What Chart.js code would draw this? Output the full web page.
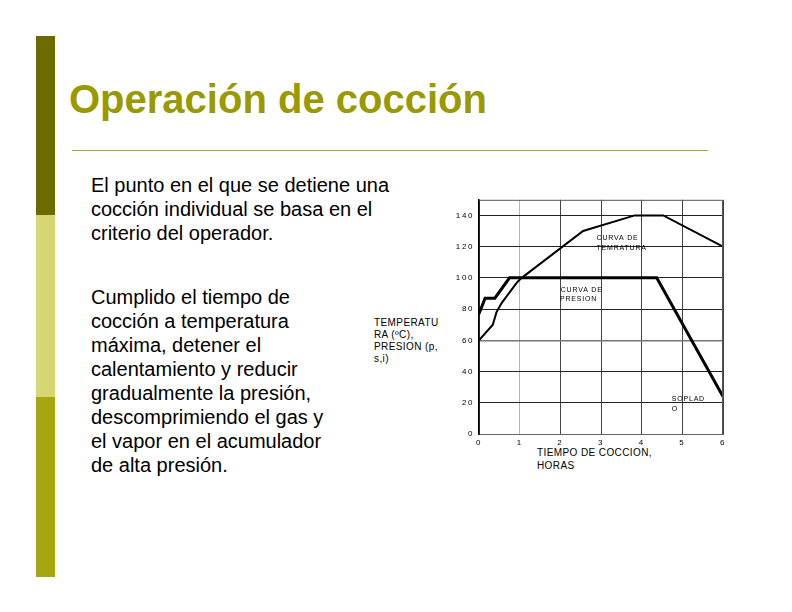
<!DOCTYPE html>
<html>
<head>
<meta charset="utf-8">
<script src="https://cdn.jsdelivr.net/npm/chart.js@4/dist/chart.umd.min.js"></script>
<style>
  body { margin: 0; background: #fff; }
  #slide { position: relative; width: 792px; height: 612px; overflow: hidden; font-family: "Liberation Sans", Arial, sans-serif; }
  .bar { position: absolute; left: 36px; width: 19px; }
  #title { position: absolute; left: 69px; top: 79px; font-size: 40px; line-height: 40px; font-weight: bold; color: #999900; white-space: nowrap; }
  #rule { position: absolute; left: 72px; top: 150px; width: 636px; height: 1px; background: #a8a83a; }
  .txt { position: absolute; left: 91px; font-size: 20px; line-height: 24px; color: #000; white-space: nowrap; }
  .axt { position: absolute; font-size: 10px; line-height: 12px; color: #000; white-space: nowrap; letter-spacing: 0.4px; }
  #chartBox { position: absolute; left: 440px; top: 190px; width: 300px; height: 270px; }
</style>
</head>
<body>
<div id="slide">
  <div class="bar" style="top:36px;height:179px;background:#6b6b00;"></div>
  <div class="bar" style="top:215px;height:182px;background:#d6d672;"></div>
  <div class="bar" style="top:397px;height:180px;background:#a6a610;"></div>
  <div id="title">Operación de cocción</div>
  <div id="rule"></div>
  <div class="txt" style="top:173px;">El punto en el que se detiene una<br>cocción individual se basa en el<br>criterio del operador.</div>
  <div class="txt" style="top:285px;">Cumplido el tiempo de<br>cocción a temperatura<br>máxima, detener el<br>calentamiento y reducir<br>gradualmente la presión,<br>descomprimiendo el gas y<br>el vapor en el acumulador<br>de alta presión.</div>
  <div class="axt" style="left:374px;top:317px;">TEMPERATU<br>RA (ºC),<br>PRESION (p,<br>s,i)</div>
  <div class="axt" style="left:537px;top:447px;line-height:12.5px;">TIEMPO DE COCCION,<br>HORAS</div>
  <div id="chartBox"><canvas id="chart"></canvas></div>
</div>
<script>
// x ticks (hours) and y ticks
const hourTicks = [0, 1, 2, 3, 4, 5, 6];
const valueTicks = [0, 20, 40, 60, 80, 100, 120, 140];

// temperature curve
const tempHours = [0, 0.34, 0.43, 0.56, 0.93, 1.05, 2.56, 3.83, 4.53, 6];
const tempValues = [60, 70, 78, 84, 97, 100, 130, 140, 140, 120];

// pressure curve
const presHours = [0, 0.15, 0.39, 0.75, 4.37, 6];
const presValues = [77, 87, 87, 100, 100, 24];

function toPoints(xs, ys) {
    return xs.map((x, i) => ({ x: x, y: ys[i] }));
}

const frameAndNotes = {
    id: 'frameAndNotes',
    beforeDraw(chart) {
        chart.ctx.letterSpacing = '1.6px';
    },
    afterDatasetsDraw(chart) {
        const ctx = chart.ctx;
        const a = chart.chartArea;
        const xs = chart.scales.x, ys = chart.scales.y;
        ctx.save();
        ctx.strokeStyle = '#555';
        ctx.lineWidth = 1;
        ctx.beginPath();
        ctx.moveTo(a.left, a.top + 0.5);
        ctx.lineTo(a.right - 0.5, a.top + 0.5);
        ctx.lineTo(a.right - 0.5, a.bottom);
        ctx.stroke();
        ctx.letterSpacing = '0.8px';
        ctx.font = '7px "Liberation Sans", Arial, sans-serif';
        ctx.fillStyle = '#000';
        ctx.textAlign = 'left';
        ctx.textBaseline = 'middle';
        const notes = [
            [2.89, 125.8, 'CURVA DE'], [2.89, 119.4, 'TEMRATURA'],
            [2.01, 92.5, 'CURVA DE'], [1.99, 86.6, 'PRESION'],
            [4.74, 22.3, 'SOPLAD'], [4.74, 15.9, 'O']
        ];
        notes.forEach(n => ctx.fillText(n[2], xs.getPixelForValue(n[0]), ys.getPixelForValue(n[1])));
        ctx.restore();
    }
};

new Chart(document.getElementById('chart'), {
    type: 'line',
    data: {
        datasets: [{
            label: 'Temperatura',
            data: toPoints(tempHours, tempValues),
            borderColor: '#000',
            borderWidth: 2,
            pointRadius: 0,
            tension: 0
        }, {
            label: 'Presión',
            data: toPoints(presHours, presValues),
            borderColor: '#000',
            borderWidth: 3,
            pointRadius: 0,
            tension: 0
        }]
    },
    options: {
        responsive: true,
        maintainAspectRatio: false,
        animation: false,
        layout: { padding: { top: 8, right: 17, left: 0, bottom: 0 } },
        plugins: { legend: { display: false }, tooltip: { enabled: false } },
        scales: {
            x: {
                type: 'linear',
                min: 0,
                max: 6,
                afterBuildTicks: axis => { axis.ticks = hourTicks.map(v => ({ value: v })); },
                afterFit: axis => { axis.height = 26; },
                ticks: { color: '#000', padding: 4, font: { size: 8, family: '"Liberation Sans", Arial' } },
                grid: {
                    drawTicks: false,
                    color: ctx => ctx.tick && ctx.tick.value === 1 ? '#b5b5b5' : '#444',
                    lineWidth: 1
                },
                border: { color: '#666', width: 1 }
            },
            y: {
                min: 0,
                max: 150,
                afterBuildTicks: axis => { axis.ticks = valueTicks.map(v => ({ value: v })); },
                afterFit: axis => { axis.width = 39; },
                ticks: { color: '#000', padding: 5, font: { size: 8, family: '"Liberation Sans", Arial' } },
                grid: {
                    drawTicks: false,
                    color: ctx => ctx.tick && ctx.tick.value === 60 ? '#777' : '#222',
                    lineWidth: ctx => ctx.tick && ctx.tick.value === 60 ? 1.5 : 1
                },
                border: { color: '#000', width: 1.5 }
            }
        }
    },
    plugins: [frameAndNotes]
});
</script>
</body>
</html>
